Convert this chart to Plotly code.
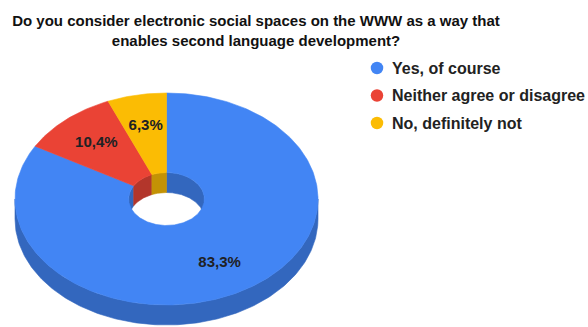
import numpy as np
import plotly.graph_objects as go

# ---- data ----
title_text = "Do you consider electronic social spaces on the WWW as a way that<br>enables second language development?"
categories = ["Yes, of course", "Neither agree or disagree", "No, definitely not"]
shares = [83.3, 10.4, 6.3]
top_colors = ["#4285F4", "#EA4335", "#FBBC04"]
side_colors = ["#3367BE", "#B3362B", "#C39205"]

# ---- geometry (pixels; axes map 1:1 to the 588x327 page) ----
W, H = 588, 327
CX, CY, RX, RY = 166.5, 199.0, 151.5, 106.0
DEPTH = 20.0
HOLE = 0.25
LABEL_R = 0.7
FONT = "Liberation Sans, Arial, sans-serif"


def arc(a0, a1, r, dy, n_per_deg=1.0):
    n = max(3, int(abs(a1 - a0) * n_per_deg) + 2)
    t = np.radians(np.linspace(a0, a1, n))
    return CX + RX * r * np.sin(t), CY - RY * r * np.cos(t) + dy


def overlap(a0, a1, b0, b1):
    s, e = max(a0, b0), min(a1, b1)
    return (s, e) if e > s else None


total = sum(shares)
bounds = []
acc = 0.0
for v in shares:
    a0 = acc / total * 360.0
    acc += v
    bounds.append((a0, acc / total * 360.0))

fig = go.Figure()

def poly(xs, ys, color):
    fig.add_trace(go.Scatter(x=np.append(xs, xs[0]), y=np.append(ys, ys[0]), mode="lines",
                             fill="toself", fillcolor=color,
                             line=dict(color=color, width=0.6),
                             hoverinfo="skip", showlegend=False))

# outer side wall (front half: 90..270 deg)
for (a0, a1), col in zip(bounds, side_colors):
    ov = overlap(a0, a1, 90, 270)
    if ov:
        x1, y1 = arc(ov[0], ov[1], 1.0, 0)
        x2, y2 = arc(ov[1], ov[0], 1.0, DEPTH)
        poly(np.concatenate([x1, x2]), np.concatenate([y1, y2]), col)

# inner hole wall (back half: 270..360 and 0..90)
for (a0, a1), col in zip(bounds, side_colors):
    for b0, b1 in [(0, 90), (270, 360)]:
        ov = overlap(a0, a1, b0, b1)
        if ov:
            x1, y1 = arc(ov[0], ov[1], HOLE, 0)
            x2, y2 = arc(ov[1], ov[0], HOLE, DEPTH)
            poly(np.concatenate([x1, x2]), np.concatenate([y1, y2]), col)

# top faces
for (a0, a1), col in zip(bounds, top_colors):
    x1, y1 = arc(a0, a1, 1.0, 0)
    x2, y2 = arc(a1, a0, HOLE, 0)
    poly(np.concatenate([x1, x2]), np.concatenate([y1, y2]), col)

# percentage labels
lx, ly, lt = [], [], []
for (a0, a1), v in zip(bounds, shares):
    m = np.radians((a0 + a1) / 2)
    lx.append(CX + RX * LABEL_R * np.sin(m))
    ly.append(CY - RY * LABEL_R * np.cos(m))
    lt.append(f"{v:.1f}".replace(".", ",") + "%")
fig.add_trace(go.Scatter(x=lx, y=ly, mode="text", text=[f"<b>{t}</b>" for t in lt],
                         textposition="middle center",
                         textfont=dict(family=FONT, size=15, color="#202124"),
                         hoverinfo="skip", showlegend=False))

# legend (drawn manually)
LEG_X, LEG_Y0, LEG_STEP = 377, 68, 27.5
leg_y = [LEG_Y0 + i * LEG_STEP for i in range(len(categories))]
fig.add_trace(go.Scatter(x=[LEG_X] * len(categories), y=leg_y, mode="markers",
                         marker=dict(symbol="circle", size=12.5, color=top_colors, line=dict(width=0)),
                         hoverinfo="skip", showlegend=False))
for name, y in zip(categories, leg_y):
    fig.add_annotation(x=LEG_X + 13, y=y, xref="x", yref="y", text=f"<b>{name}</b>",
                       showarrow=False, xanchor="left", yanchor="middle",
                       font=dict(family=FONT, size=16, color="#222222"))

fig.update_layout(
    width=W, height=H,
    margin=dict(l=0, r=0, t=0, b=0),
    paper_bgcolor="white", plot_bgcolor="white",
    title=dict(text=f"<b>{title_text}</b>", x=256 / W, xanchor="center",
               y=1 - 26 / H, yanchor="middle", yref="container",
               font=dict(family=FONT, size=15, color="#111111")),
    xaxis=dict(range=[0, W], visible=False, fixedrange=True),
    yaxis=dict(range=[H, 0], visible=False, fixedrange=True),
    showlegend=False,
)

fig.write_html("out.html")
